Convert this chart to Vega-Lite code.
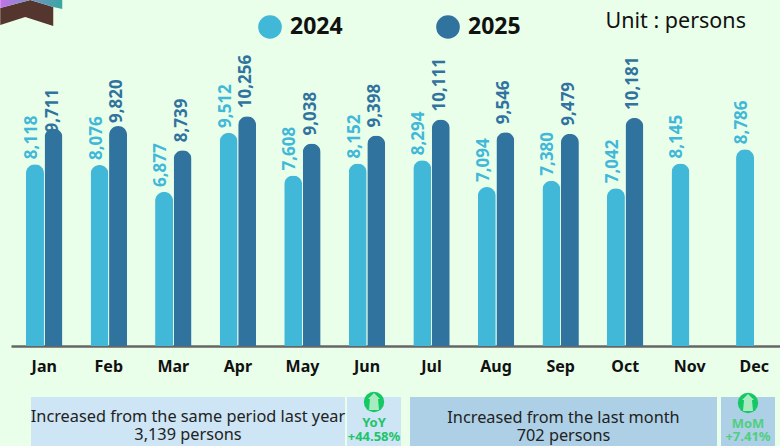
{"$schema":"https://vega.github.io/schema/vega-lite/v6.json","background":"#EAFFEA","padding":0,"bounds":"flush","spacing":51,"config":{"view":{"stroke":null},"font":"Noto Sans"},
"datasets":{"m":[
{"month":"Jan","year":"2024","value":8118},{"month":"Feb","year":"2024","value":8076},{"month":"Mar","year":"2024","value":6877},{"month":"Apr","year":"2024","value":9512},{"month":"May","year":"2024","value":7608},{"month":"Jun","year":"2024","value":8152},{"month":"Jul","year":"2024","value":8294},{"month":"Aug","year":"2024","value":7094},{"month":"Sep","year":"2024","value":7380},{"month":"Oct","year":"2024","value":7042},{"month":"Nov","year":"2024","value":8145},{"month":"Dec","year":"2024","value":8786},
{"month":"Jan","year":"2025","value":9711},{"month":"Feb","year":"2025","value":9820},{"month":"Mar","year":"2025","value":8739},{"month":"Apr","year":"2025","value":10256},{"month":"May","year":"2025","value":9038},{"month":"Jun","year":"2025","value":9398},{"month":"Jul","year":"2025","value":10111},{"month":"Aug","year":"2025","value":9546},{"month":"Sep","year":"2025","value":9479},{"month":"Oct","year":"2025","value":10181}]},
"vconcat":[
{"width":769,"height":346,
"encoding":{
"x":{"field":"month","type":"nominal","sort":null,"title":null,"scale":{"domain":["Jan","Feb","Mar","Apr","May","Jun","Jul","Aug","Sep","Oct","Nov","Dec"],"paddingInner":0.4346,"paddingOuter":0.174,"align":0.668},"axis":{"labelAngle":0,"labelFontSize":16,"labelFontWeight":"bold","labelColor":"#111111","labelPadding":12,"ticks":false,"grid":false,"domainColor":"#666666","domainWidth":2.5}},
"y":{"field":"value","type":"quantitative","title":null,"scale":{"domain":[0,15446],"nice":false},"axis":null}},
"layer":[
{"data":{"name":"m"},"encoding":{
"xOffset":{"field":"year","type":"nominal","scale":{"domain":["2024","2025"],"paddingInner":0.03}},
"color":{"field":"year","type":"nominal","scale":{"domain":["2024","2025"],"range":["#42B8D9","#31739F"]},"legend":{"title":null,"orient":"none","legendX":246,"legendY":14,"direction":"horizontal","symbolType":"circle","symbolSize":560,"symbolOpacity":1,"labelFontSize":23,"labelFontWeight":"bold","labelColor":"#111111","labelOffset":7,"columnPadding":92,"columns":2}}},
"layer":[
{"mark":{"type":"bar","cornerRadiusTopLeft":9,"cornerRadiusTopRight":9}},
{"transform":[{"filter":"datum.year=='2024'"}],"mark":{"type":"text","angle":270,"align":"left","baseline":"middle","fontSize":17,"fontWeight":"bold","dx":5,"dy":-3},"encoding":{"text":{"field":"value","type":"quantitative","format":","}}},
{"transform":[{"filter":"datum.year=='2025' && datum.month!='Jan' && datum.month!='Feb'"}],"mark":{"type":"text","angle":270,"align":"left","baseline":"middle","fontSize":17,"fontWeight":"bold","dx":8,"dy":-1},"encoding":{"text":{"field":"value","type":"quantitative","format":","}}},
{"transform":[{"filter":"datum.year=='2025' && datum.month=='Jan'"}],"mark":{"type":"text","angle":270,"align":"left","baseline":"middle","fontSize":17,"fontWeight":"bold","dx":-4,"dy":-1},"encoding":{"text":{"field":"value","type":"quantitative","format":","}}},
{"transform":[{"filter":"datum.year=='2025' && datum.month=='Feb'"}],"mark":{"type":"text","angle":270,"align":"left","baseline":"middle","fontSize":17,"fontWeight":"bold","dx":3,"dy":-1},"encoding":{"text":{"field":"value","type":"quantitative","format":","}}}
]},
{"data":{"values":[{"month":"Nov","value":14464,"t":"Unit : persons"}]},"mark":{"type":"text","fontSize":21.5,"color":"#111111","dx":-14},"encoding":{"text":{"field":"t"}}},
{"data":{"values":[{"month":"Jan","value":15446}]},"mark":{"type":"point","filled":true,"opacity":1,"size":4,"color":"#54362F","shape":"M-44 8 L-14 0 L9 7 L9 26 L-19 17 L-44 25 Z"}},
{"data":{"values":[{"month":"Jan","value":15446}]},"mark":{"type":"point","filled":true,"opacity":1,"size":4,"shape":"M-44 0 L18 0 L18 9 L9 7 L-14 0 L-44 8 Z","color":{"gradient":"linear","x1":0,"x2":1,"y1":0,"y2":0,"stops":[{"offset":0,"color":"#C572E8"},{"offset":0.45,"color":"#7D8FC8"},{"offset":1,"color":"#36A8A0"}]}}}
]},
{"bounds":"flush","spacing":0,"hconcat":[
{"width":20,"height":49,"data":{"values":[{"t":""}]},"mark":{"type":"text"},"encoding":{"text":{"field":"t"}}},
{"width":314,"height":49,"view":{"fill":"#CDE5F5"},"data":{"values":[{"row":"a","t":"Increased from the same period last year"},{"row":"b","t":"3,139 persons"}]},"mark":{"type":"text","fontSize":16.3,"color":"#222222"},"encoding":{"y":{"field":"row","type":"ordinal","axis":null,"scale":{"range":[19.5,38],"padding":0}},"text":{"field":"t"}}},
{"width":2,"height":49,"data":{"values":[{"t":""}]},"mark":{"type":"text"},"encoding":{"text":{"field":"t"}}},
{"width":54,"height":49,"view":{"fill":"#CDE5F5"},"encoding":{"y":{"field":"row","type":"ordinal","axis":null,"scale":{"domain":["icon","x","label","value"],"range":[5,40],"padding":0}}},"layer":[
{"data":{"values":[{"row":"icon"}]},"mark":{"type":"point","shape":"circle","filled":true,"opacity":1,"size":415,"color":"#14C864"}},
{"data":{"values":[{"row":"icon"}]},"mark":{"type":"point","filled":true,"opacity":1,"size":4,"color":"#A8EBC0","shape":"M0 -9 L6 -3 L4 -3 L5 8 L-5 8 L-4 -3 L-6 -3 Z"}},
{"data":{"values":[{"row":"label","t":"YoY"}]},"mark":{"type":"text","fontSize":13,"fontWeight":"bold","color":"#22C46B","dy":-2},"encoding":{"text":{"field":"t"}}},
{"data":{"values":[{"row":"value","t":"+44.58%"}]},"mark":{"type":"text","fontSize":13,"fontWeight":"bold","color":"#22C46B"},"encoding":{"text":{"field":"t"}}}]},
{"width":9,"height":49,"data":{"values":[{"t":""}]},"mark":{"type":"text"},"encoding":{"text":{"field":"t"}}},
{"width":307,"height":49,"view":{"fill":"#ADD0E6"},"data":{"values":[{"row":"a","t":"Increased from the last month"},{"row":"b","t":"702 persons"}]},"mark":{"type":"text","fontSize":16.3,"color":"#222222"},"encoding":{"y":{"field":"row","type":"ordinal","axis":null,"scale":{"range":[21,39],"padding":0}},"text":{"field":"t"}}},
{"width":4,"height":49,"data":{"values":[{"t":""}]},"mark":{"type":"text"},"encoding":{"text":{"field":"t"}}},
{"width":54,"height":49,"view":{"fill":"#ADD0E6"},"encoding":{"y":{"field":"row","type":"ordinal","axis":null,"scale":{"domain":["icon","x","label","value"],"range":[6,40],"padding":0}}},"layer":[
{"data":{"values":[{"row":"icon"}]},"mark":{"type":"point","shape":"circle","filled":true,"opacity":1,"size":415,"color":"#14C864"}},
{"data":{"values":[{"row":"icon"}]},"mark":{"type":"point","filled":true,"opacity":1,"size":4,"color":"#A8EBC0","shape":"M0 -9 L6 -3 L4 -3 L5 8 L-5 8 L-4 -3 L-6 -3 Z"}},
{"data":{"values":[{"row":"label","t":"MoM"}]},"mark":{"type":"text","fontSize":13,"fontWeight":"bold","color":"#50CF80","dy":-2},"encoding":{"text":{"field":"t"}}},
{"data":{"values":[{"row":"value","t":"+7.41%"}]},"mark":{"type":"text","fontSize":13,"fontWeight":"bold","color":"#50CF80"},"encoding":{"text":{"field":"t"}}}]}
]}
]}
